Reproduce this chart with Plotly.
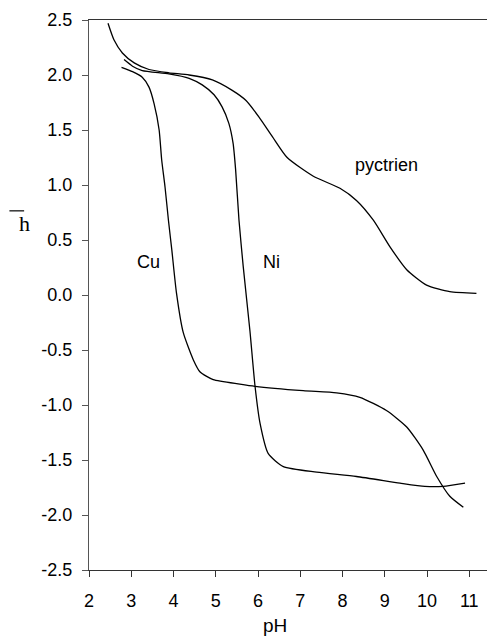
import plotly.graph_objects as go

# pyctrien curve
pyc_ph = [2.45, 2.59, 2.79, 3.07, 3.42, 3.89, 4.37, 4.92, 5.39, 5.71, 6.02, 6.34, 6.69,
          7.31, 7.94, 8.33, 8.73, 9.12, 9.52, 9.99, 10.54, 11.17]
pyc_h = [2.47, 2.32, 2.20, 2.11, 2.05, 2.02, 2.00, 1.955, 1.86, 1.77, 1.62, 1.44, 1.25,
         1.08, 0.97, 0.86, 0.68, 0.44, 0.23, 0.09, 0.03, 0.015]

# Ni curve
ni_ph = [2.83, 3.03, 3.26, 3.89, 4.37, 4.68, 4.96, 5.15, 5.31, 5.41, 5.47, 5.55, 5.65,
         5.81, 5.93, 6.05, 6.24, 6.60, 7.39, 8.33, 9.36, 9.95, 10.38, 10.90]
ni_h = [2.14, 2.08, 2.04, 2.01, 1.97, 1.91, 1.82, 1.71, 1.56, 1.38, 1.14, 0.68, 0.26,
        -0.33, -0.83, -1.17, -1.44, -1.56, -1.61, -1.65, -1.71, -1.74, -1.74, -1.71]

# Cu curve
cu_ph = [2.77, 3.03, 3.26, 3.42, 3.54, 3.66, 3.72, 3.80, 3.88, 3.96, 4.07, 4.23, 4.47,
         4.63, 4.94, 5.57, 5.93, 7.07, 7.86, 8.41, 9.04, 9.52, 9.91, 10.23, 10.54, 10.86]
cu_h = [2.07, 2.03, 1.98, 1.89, 1.74, 1.50, 1.23, 0.98, 0.68, 0.41, 0.02, -0.34, -0.59,
        -0.70, -0.77, -0.81, -0.83, -0.87, -0.89, -0.93, -1.05, -1.20, -1.41, -1.65, -1.83, -1.93]

labels = ["pyctrien", "Ni", "Cu"]
label_x = [9.04, 6.32, 3.40]
label_y = [1.18, 0.30, 0.30]

x_ticks = [2, 3, 4, 5, 6, 7, 8, 9, 10, 11]
y_ticks = [-2.5, -2.0, -1.5, -1.0, -0.5, 0.0, 0.5, 1.0, 1.5, 2.0, 2.5]
y_ticktext = ["-2.5", "-2.0", "-1.5", "-1.0", "-0.5", "0.0", "0.5", "1.0", "1.5", "2.0", "2.5"]

fig = go.Figure()
for xs, ys in [(pyc_ph, pyc_h), (ni_ph, ni_h), (cu_ph, cu_h)]:
    fig.add_trace(go.Scatter(x=xs, y=ys, mode="lines",
                             line=dict(color="black", width=1.3, shape="spline", smoothing=0.6),
                             showlegend=False, hoverinfo="skip"))

for t, lx, ly in zip(labels, label_x, label_y):
    fig.add_annotation(x=lx, y=ly, text=t, showarrow=False, xref="x", yref="y",
                       font=dict(family="Liberation Sans, Arial", size=18, color="black"))

# x-axis title
fig.add_annotation(x=0.467, y=-0.1, xref="paper", yref="paper", text="pH", showarrow=False,
                   yanchor="middle", font=dict(family="Liberation Sans, Arial", size=19, color="black"))

# y-axis title: h with overbar
fig.add_annotation(x=-0.18, y=0.63, xref="paper", yref="paper", text="h", showarrow=False,
                   font=dict(family="Liberation Serif, Times New Roman", size=22, color="black"))
fig.add_shape(type="line", xref="paper", yref="paper", x0=-0.2, x1=-0.163, y0=0.653, y1=0.653,
              line=dict(color="black", width=1.2))

fig.update_layout(
    width=487, height=638,
    margin=dict(l=89, r=0, t=20, b=68),
    plot_bgcolor="white", paper_bgcolor="white",
    font=dict(family="Liberation Sans, Arial", size=18, color="black"),
    xaxis=dict(range=[2, 11.42], tickvals=x_ticks, ticks="outside", ticklen=6, tickcolor="#333",
               ticklabelstandoff=8,
               showline=True, linecolor="#333", linewidth=1, mirror=True, showgrid=False, zeroline=False),
    yaxis=dict(range=[-2.5, 2.5], tickvals=y_ticks, ticktext=y_ticktext, ticks="outside", ticklen=6,
               ticklabelstandoff=6,
               tickcolor="#555", showline=True, linecolor="#555", linewidth=1, showgrid=False, zeroline=False),
)

fig.write_html("out.html")
